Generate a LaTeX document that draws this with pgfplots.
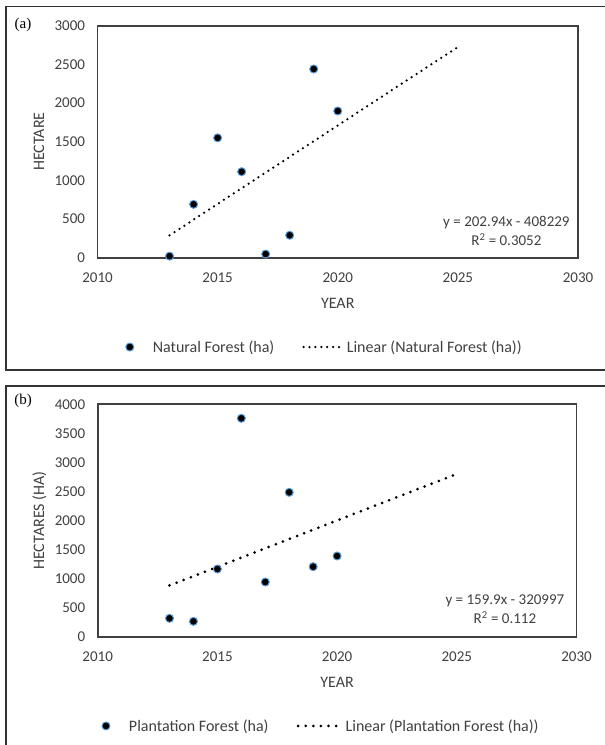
\documentclass[border=0pt]{standalone}
\usepackage{fontspec}
\setmainfont{Carlito}
\newfontfamily\tnr{Liberation Serif}
\usepackage{pgfplots}
\pgfplotsset{compat=1.18}

\definecolor{mkedge}{RGB}{91,155,213}
\definecolor{txt}{RGB}{64,64,64}

\pgfplotsset{
  excelscatter/.style={
    scale only axis,
    anchor=south west,
    xmin=2010, xmax=2030,
    xtick={2010,2015,...,2030},
    ymin=0,
    axis line style={line width=1.8pt, black!75},
    major tick length=0pt,
    tick label style={font=\fontsize{15}{17}\selectfont, text=txt},
    label style={font=\fontsize{16}{18}\selectfont, text=txt},
    /pgf/number format/.cd, 1000 sep={}, assume math mode=true, /pgfplots/.cd,
    xticklabel style={yshift=-12pt},
    yticklabel style={xshift=-9pt},
    xlabel style={at={(axis description cs:0.5,-0.195)}, anchor=center},
    ylabel style={at={(axis description cs:-0.122,0.5)}, anchor=center, rotate=0},
    legend columns=2,
    legend style={draw=none, fill=none, font=\fontsize{16}{18}\selectfont, text=txt,
      /tikz/every even column/.append style={column sep=26pt}},
    clip=false,
  },
  ptstyle/.style={only marks, mark=*, mark size=4pt,
    mark options={fill=black, draw=mkedge, line width=1pt},
    legend image code/.code={\path[draw=none, fill=none] (-4pt,0pt) -- (21pt,0pt);
      \draw[##1] plot coordinates {(0pt,0pt)};}},
  legline/.style={legend image code/.code={\draw[##1] (0pt,0pt) -- (#1,0pt);}},
}

\begin{document}
\begin{tikzpicture}[x=1pt,y=1pt]
\useasboundingbox (0,0) rectangle (605,745);
% panel frames
\draw[line width=1.5pt, black!80] (6,375) rectangle (615,738.3);
\draw[line width=1.5pt, black!80] (6,-20) rectangle (615,359);
\node[font=\tnr\fontsize{15}{17}\selectfont, anchor=center] at (23,720) {(a)};
\node[font=\tnr\fontsize{15}{17}\selectfont, anchor=center] at (23,344) {(b)};

% (a) natural forest
\begin{axis}[excelscatter,
  at={(97.5pt,487.3pt)}, width=480.5pt, height=232pt,
  ymax=3000, ytick={0,500,...,3000},
  xlabel={YEAR}, ylabel={HECTARE},
  legend style={at={(0.473,-0.385)}, anchor=center},
]
\addplot[ptstyle] coordinates {
  (2013,20) (2014,690) (2015,1550) (2016,1112)
  (2017,47) (2018,290) (2019,2440) (2020,1897)
};
\addlegendentry{Natural Forest (ha)}
\addplot[black, line width=2.5pt, line cap=round, dash pattern=on 0pt off 5.9pt, legline=40pt]
  coordinates {(2013,289.2) (2025,2724.5)};
\addlegendentry{Linear (Natural Forest (ha))}
\node[font=\fontsize{15}{19}\selectfont, text=txt, align=center]
  at (axis cs:2027.02,345) {y = 202.94x - 408229\\R\textsuperscript{2} = 0.3052};
\end{axis}

% (b) plantation forest
\begin{axis}[excelscatter,
  at={(97.7pt,108.3pt)}, width=478.8pt, height=232.4pt,
  ymax=4000, ytick={0,500,...,4000},
  xlabel={YEAR}, ylabel={HECTARES (HA)},
  legend style={at={(0.467,-0.384)}, anchor=center},
]
\addplot[ptstyle] coordinates {
  (2013,316) (2014,264) (2015,1165) (2016,3759)
  (2017,941) (2018,2485) (2019,1205) (2020,1389)
};
\addlegendentry{Plantation Forest (ha)}
\addplot[black, line width=3pt, line cap=round, dash pattern=on 0pt off 7.6pt, legline=44pt]
  coordinates {(2013,881.7) (2025,2800.5)};
\addlegendentry{Linear (Plantation Forest (ha))}
\node[font=\fontsize{15}{19}\selectfont, text=txt, align=center]
  at (axis cs:2027.01,468) {y = 159.9x - 320997\\R\textsuperscript{2} = 0.112};
\end{axis}
\end{tikzpicture}
\end{document}
